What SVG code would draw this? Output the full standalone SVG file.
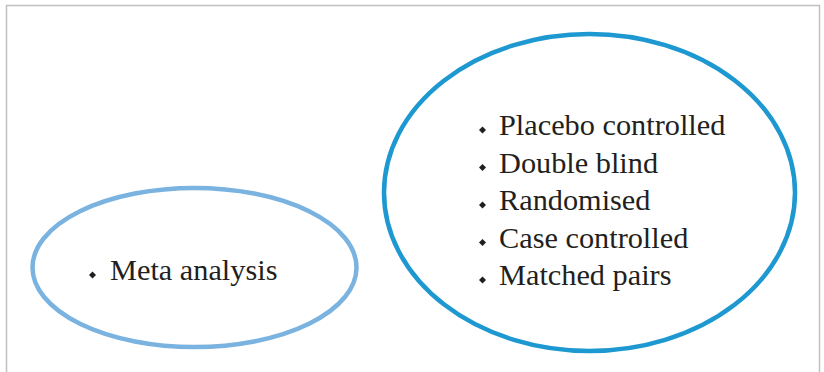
<svg xmlns="http://www.w3.org/2000/svg" width="824" height="372" viewBox="0 0 824 372">
<style>
.t{font-family:"Liberation Serif","Times New Roman",serif;font-size:30.3px;fill:#231f20}
.b{fill:#231f20}
.frame{fill:none;stroke:#c0c0c0;stroke-width:1.5}
</style>
<rect width="824" height="372" fill="#fff"/>
<path class="frame" d="M6.5,380 V5.5 H819.5 V380"/>
<g id="node-meta">
<ellipse cx="194.5" cy="267.5" rx="162" ry="79.5" fill="none" stroke="#7ab3e0" stroke-width="4.5"/>
<path class="b" d="M92.5,271.5 L96,275 L92.5,278.5 L89,275 Z"/>
<text class="t" x="110" y="280">Meta analysis</text>
</g>
<g id="node-trials">
<ellipse cx="589.5" cy="192.5" rx="205.5" ry="158.5" fill="none" stroke="#1e98d0" stroke-width="4.5"/>
<path class="b" d="M482.5,126.5 L486,130 L482.5,133.5 L479,130 Z"/>
<path class="b" d="M482.5,164 L486,167.5 L482.5,171 L479,167.5 Z"/>
<path class="b" d="M482.5,201.5 L486,205 L482.5,208.5 L479,205 Z"/>
<path class="b" d="M482.5,239 L486,242.5 L482.5,246 L479,242.5 Z"/>
<path class="b" d="M482.5,276.5 L486,280 L482.5,283.5 L479,280 Z"/>
<text class="t" x="499" y="135">Placebo controlled</text>
<text class="t" x="499" y="172.5">Double blind</text>
<text class="t" x="499" y="210">Randomised</text>
<text class="t" x="499" y="247.5">Case controlled</text>
<text class="t" x="499" y="285">Matched pairs</text>
</g>
<g id="connectors"></g>
</svg>
